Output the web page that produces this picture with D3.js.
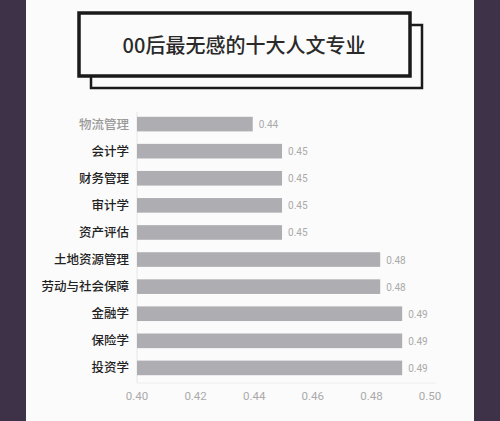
<!DOCTYPE html>
<html><head><meta charset="utf-8">
<script src="https://cdn.jsdelivr.net/npm/d3@7"></script>
<style>body{margin:0;background:#3e3249}</style>
</head><body>
<svg id="chart" width="500" height="421"></svg>
<script>
const majors = ["物流管理","会计学","财务管理","审计学","资产评估","土地资源管理","劳动与社会保障","金融学","保险学","投资学"];
const values = [0.4395,0.4495,0.4495,0.4495,0.4495,0.483,0.483,0.4905,0.4905,0.4905];
const labels = ["0.44","0.45","0.45","0.45","0.45","0.48","0.48","0.49","0.49","0.49"];
const ticks = [0.40,0.42,0.44,0.46,0.48,0.50];

const svg = d3.select("#chart");
svg.append("rect").attr("x",0).attr("y",0).attr("width",500).attr("height",421).attr("fill","#3e3249");
svg.append("rect").attr("x",26).attr("y",0).attr("width",448).attr("height",421).attr("fill","#fbfbfb");

// title frame
svg.append("rect").attr("x",91).attr("y",25).attr("width",331).attr("height",63)
  .attr("fill","#fbfbfb").attr("stroke","#1a1a1a").attr("stroke-width",2.5);
svg.append("rect").attr("x",79).attr("y",13).attr("width",331).attr("height",63)
  .attr("fill","#fbfbfb").attr("stroke","#1a1a1a").attr("stroke-width",3.5);
svg.append("text").attr("x",244).attr("y",53).attr("text-anchor","middle")
  .attr("font-family","Noto Sans CJK SC").attr("font-size",20).attr("font-weight",500)
  .attr("fill","#2a2a2a").text("00后最无感的十大人文专业");

const x = d3.scaleLinear().domain([0.40,0.50]).range([137,430]);
const y = d3.scaleBand().domain(majors).range([110,382]).paddingInner(0.46).paddingOuter(0.25);

svg.append("line").attr("x1",137).attr("x2",137).attr("y1",112).attr("y2",383)
  .attr("stroke","#e6e6e6");
svg.append("line").attr("x1",137).attr("x2",436).attr("y1",383).attr("y2",383)
  .attr("stroke","#eeeeee");

svg.selectAll(".bar").data(majors).join("rect")
  .attr("x",x(0.40)).attr("y",d=>y(d)).attr("height",y.bandwidth())
  .attr("width",(d,i)=>x(values[i])-x(0.40)).attr("fill","#aeadb2");

svg.selectAll(".cat").data(majors).join("text")
  .attr("x",129).attr("y",d=>y(d)+y.bandwidth()/2+4.5).attr("text-anchor","end")
  .attr("font-family","Noto Sans CJK SC").attr("font-size",12.5).attr("font-weight",500)
  .attr("fill",(d,i)=>i===0?"#999":"#222").text(d=>d);

svg.selectAll(".val").data(majors).join("text")
  .attr("x",(d,i)=>x(values[i])+6).attr("y",d=>y(d)+y.bandwidth()/2+4)
  .attr("font-family","Roboto").attr("font-size",10).attr("fill","#aaa")
  .text((d,i)=>labels[i]);

svg.selectAll(".tick").data(ticks).join("text")
  .attr("x",d=>x(d)).attr("y",400).attr("text-anchor","middle")
  .attr("font-family","Roboto").attr("font-size",11.5).attr("fill","#aaa")
  .text(d=>d3.format(".2f")(d));
</script>
</body></html>
